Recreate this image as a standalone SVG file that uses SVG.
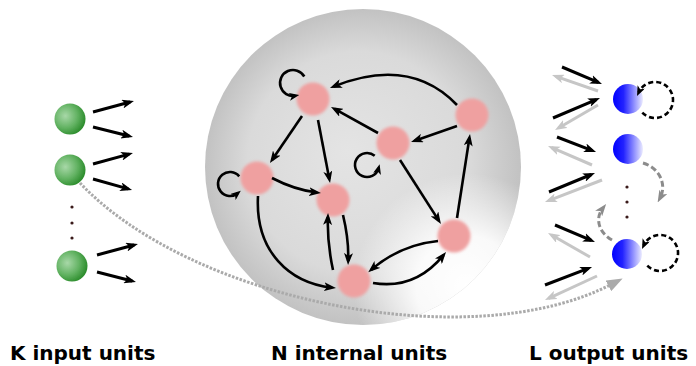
<svg xmlns="http://www.w3.org/2000/svg" width="696" height="366" viewBox="0 0 696 366">
<style>
.a{fill:none;stroke:#000;stroke-width:2.6;marker-end:url(#ah)}
.in{stroke-width:3}
.g{fill:none;stroke:#c6c6c6;stroke-width:3;marker-end:url(#ahg)}
.lp{fill:none;stroke:#000;stroke-width:2.6;marker-end:url(#ahs)}
.dl{fill:none;stroke:#000;stroke-width:2.6;stroke-dasharray:5 3;marker-end:url(#ahs)}
.gd{fill:none;stroke:#8c8c8c;stroke-width:3;stroke-dasharray:6 3;marker-end:url(#ahgd)}
.dot{fill:none;stroke:#aaa;stroke-width:3;stroke-dasharray:2.5 1.5;marker-end:url(#big)}
.pk{fill:#efa0a0;filter:url(#bl)}
.gr{fill:url(#grn);filter:url(#bls)}
.bl{fill:url(#blu)}
.dt{fill:#3a1a1a}
.lbl{font-family:"DejaVu Sans","Liberation Sans",sans-serif;font-weight:bold;font-size:20px;fill:#000}
</style>
<defs>
<marker id="ah" viewBox="0 0 12 9" refX="8" refY="4.5" markerWidth="12" markerHeight="9" orient="auto" markerUnits="userSpaceOnUse"><path d="M0,0 L12,4.5 L0,9 L3,4.5 z" fill="#000"/></marker>
<marker id="ahs" viewBox="0 0 10 8" refX="6" refY="4" markerWidth="10" markerHeight="8" orient="auto" markerUnits="userSpaceOnUse"><path d="M0,0 L10,4 L0,8 L2.5,4 z" fill="#000"/></marker>
<marker id="ahg" viewBox="0 0 12 9" refX="8" refY="4.5" markerWidth="12" markerHeight="9" orient="auto" markerUnits="userSpaceOnUse"><path d="M0,0 L12,4.5 L0,9 L3,4.5 z" fill="#c6c6c6"/></marker>
<marker id="ahgd" viewBox="0 0 12 9" refX="7" refY="4.5" markerWidth="12" markerHeight="9" orient="auto" markerUnits="userSpaceOnUse"><path d="M0,0 L12,4.5 L0,9 L3,4.5 z" fill="#8c8c8c"/></marker>
<marker id="big" viewBox="0 0 16 12" refX="4" refY="6" markerWidth="16" markerHeight="12" orient="auto" markerUnits="userSpaceOnUse"><path d="M0,0 L16,6 L0,12 z" fill="#aaa"/></marker>
<radialGradient id="sph" cx="0.5" cy="0.5" r="0.5" fx="0.45" fy="0.45">
<stop offset="0" stop-color="#e4e4e4"/><stop offset="0.7" stop-color="#dadada"/><stop offset="1" stop-color="#c2c2c2"/>
</radialGradient>
<radialGradient id="hl" cx="0.83" cy="0.88" r="0.36">
<stop offset="0" stop-color="#fff" stop-opacity="1"/><stop offset="0.45" stop-color="#fff" stop-opacity="0.9"/><stop offset="1" stop-color="#fff" stop-opacity="0"/>
</radialGradient>
<radialGradient id="grn" cx="0.35" cy="0.4" r="0.65">
<stop offset="0" stop-color="#a8d8a8"/><stop offset="0.6" stop-color="#62b262"/><stop offset="1" stop-color="#2e8e2e"/>
</radialGradient>
<linearGradient id="blu" x1="0" y1="0" x2="1" y2="0">
<stop offset="0" stop-color="#0000ff"/><stop offset="0.35" stop-color="#2222ff"/><stop offset="1" stop-color="#ececff"/>
</linearGradient>
<filter id="bl" x="-30%" y="-30%" width="160%" height="160%"><feGaussianBlur stdDeviation="1.6"/></filter>
<filter id="bls" x="-20%" y="-20%" width="140%" height="140%"><feGaussianBlur stdDeviation="0.6"/></filter>
</defs>

<g id="reservoir">
<circle cx="363" cy="167" r="158" fill="url(#sph)"/>
<circle cx="363" cy="167" r="158" fill="url(#hl)"/>
</g>

<g id="input-units">
<g id="in1"><circle class="gr" cx="70" cy="119" r="15.5"/></g>
<g id="in2"><circle class="gr" cx="70" cy="170" r="15.5"/></g>
<g id="in-dots"><circle class="dt" cx="72" cy="207" r="1.6"/><circle class="dt" cx="72" cy="223" r="1.6"/><circle class="dt" cx="72" cy="238" r="1.6"/></g>
<g id="inK"><circle class="gr" cx="72" cy="266" r="15.5"/></g>
</g>

<g id="internal-units">
<g id="nA"><circle class="pk" cx="313" cy="99" r="16.5"/></g>
<g id="nB"><circle class="pk" cx="472" cy="115" r="16.5"/></g>
<g id="nC"><circle class="pk" cx="393" cy="143" r="16.5"/></g>
<g id="nD"><circle class="pk" cx="257" cy="178" r="16.5"/></g>
<g id="nE"><circle class="pk" cx="333" cy="200" r="16.5"/></g>
<g id="nF"><circle class="pk" cx="354" cy="281" r="16.5"/></g>
<g id="nG"><circle class="pk" cx="454" cy="236" r="16.5"/></g>
</g>

<g id="output-units">
<g id="out1"><circle class="bl" cx="628" cy="99" r="15"/></g>
<g id="out2"><circle class="bl" cx="628" cy="149" r="15"/></g>
<g id="out-dots"><circle class="dt" cx="627" cy="187" r="1.6"/><circle class="dt" cx="627" cy="202" r="1.6"/><circle class="dt" cx="627" cy="217" r="1.6"/></g>
<g id="outL"><circle class="bl" cx="627" cy="254" r="15"/></g>
</g>

<g id="connectors">
<path class="dot" d="M80,183 C190,300 470,358 612,284"/>
<path class="a in" d="M93,112 L130.1,102"/>
<path class="a in" d="M93,127 L129.1,136"/>
<path class="a in" d="M93,164 L129.1,154.1"/>
<path class="a in" d="M93,179 L128.2,188.9"/>
<path class="a in" d="M97,255 L134.1,245"/>
<path class="a in" d="M97,272 L132.1,281"/>
<path class="a" d="M457,105 Q410,56 333.7,86.5"/>
<path class="a" d="M378,133 L334.5,108.9"/>
<path class="a" d="M457,126 L414.8,140.7"/>
<path class="a" d="M302,116 L272.2,159.7"/>
<path class="a" d="M318,120 L329.3,179.1"/>
<path class="a" d="M272,178 Q295,190 317,192.5"/>
<path class="a" d="M258,196 C255,252 290,283 332,287.6"/>
<path class="a" d="M333,270 Q327,242 327.9,217"/>
<path class="a" d="M343,215 Q349,240 348.2,261"/>
<path class="a" d="M400,160 L438.8,220.6"/>
<path class="a" d="M457,218 L469.4,138"/>
<path class="a" d="M438,241 Q400,245 371.3,269.7"/>
<path class="a" d="M373,283 Q415,290 443.5,255.1"/>
<path class="lp" d="M304.3,76.5 A13,13 0 1 0 295.3,95.8"/>
<path class="lp" d="M374.7,155.8 A12,12 0 1 0 378.6,168.1"/>
<path class="lp" d="M239.2,176.3 A12,12 0 1 0 237.7,193.2"/>
<path class="g" d="M598,91 L555.8,76.3"/>
<path class="g" d="M598,105 L558.5,128"/>
<path class="g" d="M592,165 L551.7,147.6"/>
<path class="g" d="M602,180 L548.7,200.6"/>
<path class="g" d="M590,257 L551.5,235"/>
<path class="g" d="M597,276 L548.6,298.3"/>
<path class="a in" d="M562,67 L598.3,82.4"/>
<path class="a in" d="M553,118 L596.3,99.6"/>
<path class="a in" d="M557,137 L592.3,150.6"/>
<path class="a in" d="M549,192 L591.3,174.5"/>
<path class="a in" d="M555,225 L591.3,240.4"/>
<path class="a in" d="M545,285 L588.3,268.4"/>
<path class="dl" d="M642.3,112.7 A18,18 0 1 0 638.7,92.4"/>
<path class="dl" d="M647.3,265.7 A18,18 0 1 0 643.7,245.4"/>
<path class="gd" d="M643,163 C660,168 667,185 660,198"/>
<path class="gd" d="M612,240 C598,232 595,218 603,208"/>
</g>

<g id="labels">
<text class="lbl" x="10" y="360">K input units</text>
<text class="lbl" x="271" y="360">N internal units</text>
<text class="lbl" x="529" y="360">L output units</text>
</g>
</svg>
